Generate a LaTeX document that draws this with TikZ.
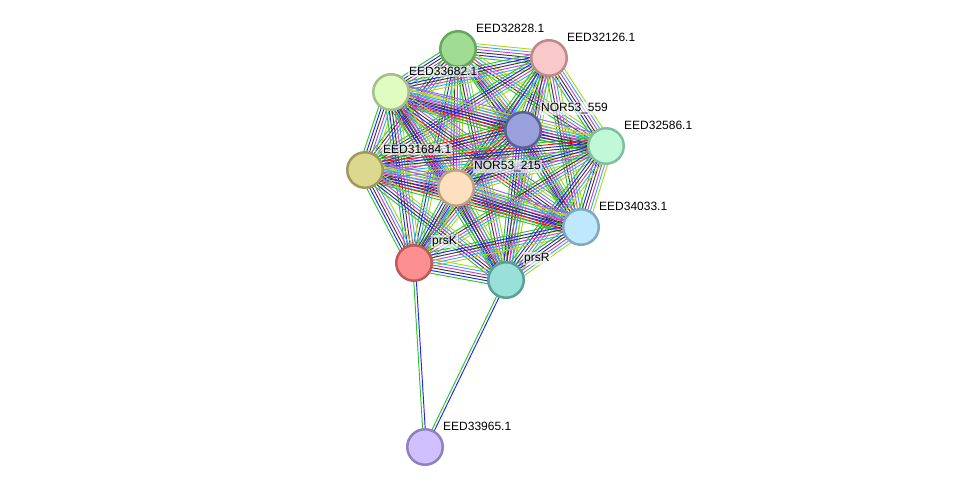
\documentclass[tikz,border=0pt]{standalone}
\usepackage{fontspec}
\setmainfont{Liberation Sans}
\usetikzlibrary{calc,backgrounds}
% edge colours
\definecolor{eg}{HTML}{2BC42B}
\definecolor{er}{HTML}{F01818}
\definecolor{eb}{HTML}{2424F0}
\definecolor{ek}{HTML}{3A3A3A}
\definecolor{em}{HTML}{D23CD2}
\definecolor{ec}{HTML}{2FB4DC}
\definecolor{ey}{HTML}{B8D022}
\definecolor{ev}{HTML}{8C6CE8}
% node colours: fill f?, border d?
\definecolor{fa}{HTML}{A0DC94}\definecolor{da}{HTML}{68A85C}
\definecolor{fb}{HTML}{F9C8C8}\definecolor{db}{HTML}{C08888}
\definecolor{fc}{HTML}{E0FCC0}\definecolor{dc}{HTML}{A6BE88}
\definecolor{fd}{HTML}{99A0DC}\definecolor{dd}{HTML}{5A6098}
\definecolor{fe}{HTML}{C0F8D8}\definecolor{de}{HTML}{80C0A0}
\definecolor{ff}{HTML}{DCD890}\definecolor{df}{HTML}{A09A58}
\definecolor{fg}{HTML}{FDE0C0}\definecolor{dg}{HTML}{C0A080}
\definecolor{fh}{HTML}{C0E8FC}\definecolor{dh}{HTML}{80A8C0}
\definecolor{fk}{HTML}{FC9090}\definecolor{dk}{HTML}{C05858}
\definecolor{fr}{HTML}{98E0D8}\definecolor{dr}{HTML}{58A098}
\definecolor{fz}{HTML}{D0C0FC}\definecolor{dz}{HTML}{9080C0}
% line sets (colour/offset)
\def\setA{eg/-9.8,er/-7,eb/-4.2,ek/-1.4,em/1.4,ec/4.2,ey/7,ev/9.8}
\def\setB{eg/-7,eb/-4.2,ek/-1.4,em/1.4,ec/4.2,ey/7}
\def\setC{eg/-5.6,ek/-2.8,em/0,ec/2.8,ey/5.6}
\def\setD{eg/-4.2,eb/-1.4,ec/1.4,ey/4.2}
\def\setE{eb/-1.3,eg/1.3}
\newcommand\bundle[3]{%
  \expandafter\let\expandafter\curset\csname set#3\endcsname
  \foreach \cc/\oo in \curset {
    \draw[\cc,line width=.95pt] ($(#1.center)!\oo pt!90:(#2.center)$) -- ($(#2.center)!\oo pt!-90:(#1.center)$);
  }}
\begin{document}
\begin{tikzpicture}[x=1pt,y=-1pt,
    prot/.style={circle,minimum size=35.5pt,inner sep=0pt,line width=2.5pt,fill=f#1,draw=d#1},
    lbl/.style={anchor=south west,font=\fontsize{12}{13}\selectfont,fill=white,fill opacity=.6,text opacity=1,inner sep=1pt}]
    \useasboundingbox (0,0) rectangle (976,493);
    \foreach \n/\x/\y/\t in {a/458/49/EED32828.1, b/549/58/EED32126.1, c/391/92/EED33682.1,
        d/523/130/NOR53\_559, e/606/146/EED32586.1, f/365/170/EED31684.1, g/456/188/NOR53\_215,
        h/581/227/EED34033.1, k/414/263/prsK, r/506/280/prsR, z/425/447/EED33965.1} {
        \node[prot=\n] (\n) at (\x,\y) {};
        \node[lbl] (t\n) at ([shift={(17,-15)}]\n.center) {\t};
    }
    \begin{scope}[on background layer]
    \foreach \u/\v/\s in {a/b/B, a/c/B, a/d/B, a/e/C, a/f/C, a/g/C, a/h/C, a/k/D, a/r/C,
        b/c/B, b/d/B, b/e/B, b/f/B, b/g/C, b/h/C, b/k/D, b/r/C,
        c/d/A, c/e/A, c/f/B, c/g/A, c/h/A, c/k/B, c/r/B,
        d/e/B, d/f/A, d/g/A, d/h/B, d/k/C, d/r/B,
        e/f/A, e/g/B, e/h/B, e/k/C, e/r/B,
        f/g/A, f/h/A, f/k/B, f/r/B,
        g/h/A, g/k/B, g/r/B, h/k/B, h/r/B, k/r/B, z/k/E, z/r/E} {
        \bundle{\u}{\v}{\s}
    }
    \end{scope}
\end{tikzpicture}
\end{document}
